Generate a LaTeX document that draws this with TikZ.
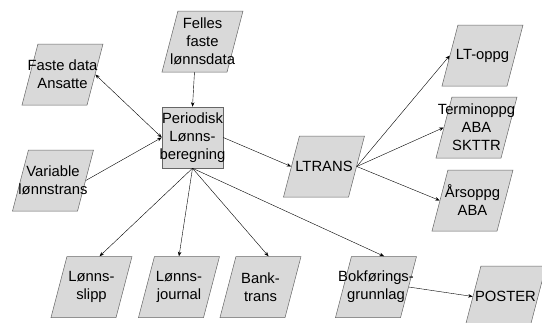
\documentclass[tikz,border=0pt]{standalone}
\usepackage{fontspec}
\setmainfont{Liberation Sans}
\usetikzlibrary{shapes.geometric,arrows.meta}
\tikzset{datafil/.style = {trapezium, trapezium left angle=72, trapezium right angle=108,
  trapezium stretches=true, minimum width=81pt, minimum height=61pt, inner sep=1pt,
  draw=black!60, fill=black!15, line width=0.5pt}}
\tikzset{prosess/.style = {rectangle, minimum width=61pt, minimum height=61pt, inner sep=0pt,
  draw=black!60, fill=black!15, line width=0.5pt}}
\tikzset{tekst/.style = {align=center, inner sep=0pt, font=\fontsize{14.8}{18}\selectfont}}
\tikzset{pil/.style = {-{Stealth[length=4.5pt,width=3.5pt]}, line width=0.4pt}}
\tikzset{dobbelpil/.style = {{Stealth[length=4.5pt,width=3.5pt]}-{Stealth[length=4.5pt,width=3.5pt]}, line width=0.4pt}}

\begin{document}
\begin{tikzpicture}[x=1pt, y=-1pt]
\useasboundingbox (0,0) rectangle (542,322);
\node[datafil] (faste) at (62.5,74.5) {};
\node[datafil] (felles) at (202.5,41.5) {};
\node[prosess] (periodisk) at (192.5,137.5) {};
\node[datafil] (variable) at (53,180.5) {};
\node[datafil] (slipp) at (91.5,287) {};
\node[datafil] (journal) at (179,287) {};
\node[datafil] (bank) at (260.5,287) {};
\node[datafil] (bokf) at (376,287) {};
\node[datafil] (poster) at (505.5,296.5) {};
\node[datafil] (ltrans) at (324,166.5) {};
\node[datafil] (ltoppg) at (482.5,55.5) {};
\node[datafil] (termin) at (476.5,127.5) {};
\node[datafil] (arsoppg) at (472.5,200.5) {};

\node[tekst] (fasteT) at (faste) {Faste data\\Ansatte};
\node[tekst] (fellesT) at (felles) {Felles\\faste\\lønnsdata};
\node[tekst] (periodiskT) at (periodisk) {Periodisk\\Lønns-\\beregning};
\node[tekst] (variableT) at (variable) {Variable\\lønnstrans};
\node[tekst] (slippT) at (slipp) {Lønns-\\slipp};
\node[tekst] (journalT) at (journal) {Lønns-\\journal};
\node[tekst] (bankT) at (bank) {Bank-\\trans};
\node[tekst] (bokfT) at (bokf) {Bokførings-\\grunnlag};
\node[tekst] (posterT) at (poster) {POSTER};
\node[tekst] (ltransT) at (ltrans) {LTRANS};
\node[tekst] (ltoppgT) at (ltoppg) {LT-oppg};
\node[tekst] (terminT) at (termin) {Terminoppg\\ABA\\SKTTR};
\node[tekst] (arsoppgT) at (arsoppg) {Årsoppg\\ABA};

\draw[dobbelpil] (faste.right side) -- (periodisk.west);
\draw[pil] (variable.right side) -- (periodisk.west);
\draw[pil] (felles.bottom side) -- (periodisk.north);
\draw[pil] (periodisk.east) -- (ltrans.left side);
\draw[pil] (ltrans.right side) -- (ltoppg.left side);
\draw[pil] (ltrans.right side) -- (termin.left side);
\draw[pil] (ltrans.right side) -- (arsoppg.left side);
\draw[pil] (periodisk.south) -- (slipp.top side);
\draw[pil] (periodisk.south) -- (journal.north);
\draw[pil] (periodisk.south) -- (bank.top side);
\draw[pil] (periodisk.south) -- (bokf.top side);
\draw[pil] (bokf.right side) -- (poster.left side);
\end{tikzpicture}
\end{document}
